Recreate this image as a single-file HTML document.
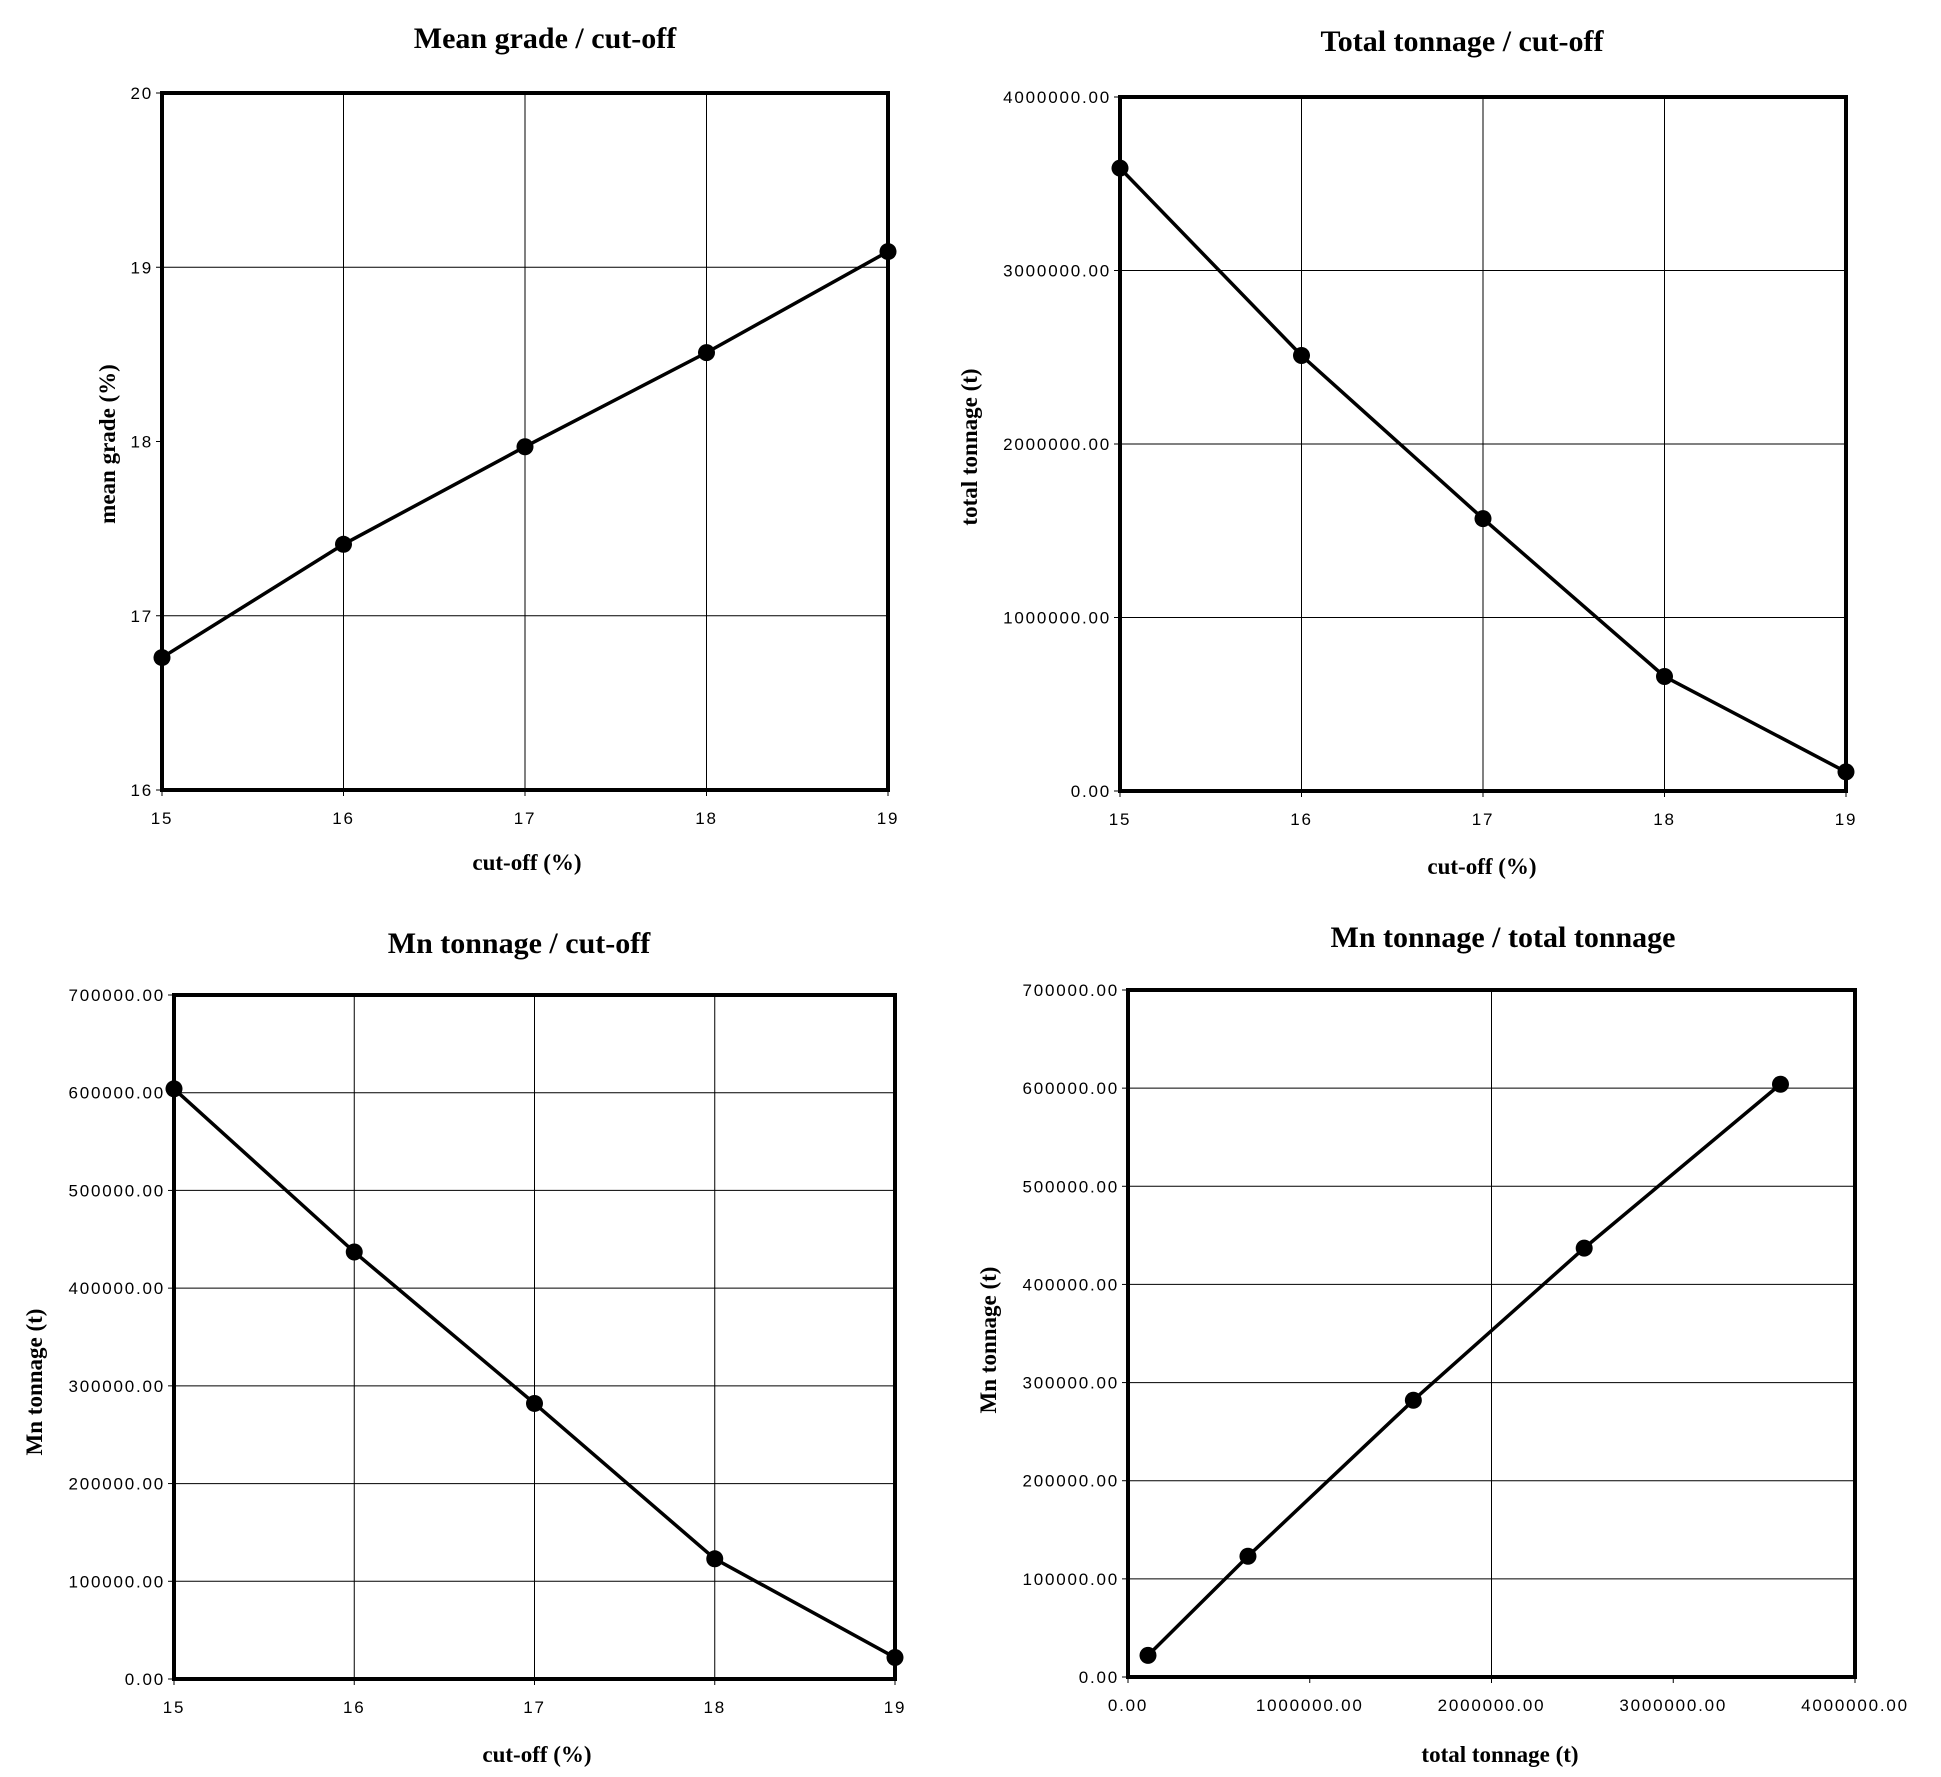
<!DOCTYPE html>
<html><head><meta charset="utf-8"><style>
html,body{margin:0;padding:0;background:#fff;}
svg{display:block}
.t{font-family:"Liberation Serif",serif;font-weight:bold;}
.k{font-family:"Liberation Sans",sans-serif;font-size:17px;letter-spacing:1.8px;}
</style></head><body>
<svg id="s" width="1941" height="1777" xmlns="http://www.w3.org/2000/svg"></svg>
<script>
var s=document.getElementById('s'),h='';
function chart(o){
 var L=o.L,R=o.R,T=o.T,B=o.B;
 function X(v){return L+(v-o.x0)/(o.x1-o.x0)*(R-L);}
 function Y(v){return B-(v-o.y0)/(o.y1-o.y0)*(B-T);}
 o.gx.forEach(function(v){h+='<line x1="'+X(v)+'" y1="'+T+'" x2="'+X(v)+'" y2="'+B+'" stroke="#000" stroke-width="1"/>';});
 o.gy.forEach(function(v){h+='<line x1="'+L+'" y1="'+Y(v)+'" x2="'+R+'" y2="'+Y(v)+'" stroke="#000" stroke-width="1"/>';});
 h+='<rect x="'+L+'" y="'+T+'" width="'+(R-L)+'" height="'+(B-T)+'" fill="none" stroke="#000" stroke-width="4"/>';
 o.ty.forEach(function(v){var y=Y(v);h+='<line x1="'+(L-6)+'" y1="'+y+'" x2="'+L+'" y2="'+y+'" stroke="#000"/>';
  h+='<text class="k" x="'+(L-9)+'" y="'+(y+6)+'" text-anchor="end">'+o.fy(v)+'</text>';});
 o.tx.forEach(function(v){var x=X(v);h+='<line x1="'+x+'" y1="'+B+'" x2="'+x+'" y2="'+(B+6)+'" stroke="#000"/>';
  h+='<text class="k" x="'+x+'" y="'+(B+34)+'" text-anchor="middle">'+o.fx(v)+'</text>';});
 var p=o.d.map(function(d){return X(d[0])+','+Y(d[1]);}).join(' ');
 h+='<polyline points="'+p+'" fill="none" stroke="#000" stroke-width="3.5"/>';
 o.d.forEach(function(d){h+='<circle cx="'+X(d[0])+'" cy="'+Y(d[1])+'" r="8.5" fill="#000"/>';});
 h+='<text class="t" x="'+o.tt[0]+'" y="'+o.tt[1]+'" font-size="30" text-anchor="middle">'+o.title+'</text>';
 h+='<text class="t" x="'+o.xl[0]+'" y="'+o.xl[1]+'" font-size="23" text-anchor="middle">'+o.xlab+'</text>';
 h+='<text class="t" font-size="23" text-anchor="middle" transform="translate('+o.yl[0]+','+o.yl[1]+') rotate(-90)">'+o.ylab+'</text>';
}
function f2(v){return v.toFixed(2);}
function i(v){return ''+v;}
chart({L:162,R:888,T:93,B:790,x0:15,x1:19,y0:16,y1:20,gx:[16,17,18],gy:[17,19],ty:[16,17,18,19,20],tx:[15,16,17,18,19],fx:i,fy:i,
 d:[[15,16.76],[16,17.41],[17,17.97],[18,18.51],[19,19.09]],title:'Mean grade / cut-off',tt:[545,48],xlab:'cut-off (%)',xl:[527,870],ylab:'mean grade (%)',yl:[115,444]});
chart({L:1120,R:1846,T:97,B:791,x0:15,x1:19,y0:0,y1:4000000,gx:[16,17,18],gy:[1e6,2e6,3e6],ty:[0,1e6,2e6,3e6,4e6],tx:[15,16,17,18,19],fx:i,fy:f2,
 d:[[15,3590000],[16,2510000],[17,1570000],[18,660000],[19,110000]],title:'Total tonnage / cut-off',tt:[1462,51],xlab:'cut-off (%)',xl:[1482,874],ylab:'total tonnage (t)',yl:[977,447]});
chart({L:174,R:895,T:995,B:1679,x0:15,x1:19,y0:0,y1:700000,gx:[16,17,18],gy:[1e5,2e5,3e5,4e5,5e5,6e5],ty:[0,1e5,2e5,3e5,4e5,5e5,6e5,7e5],tx:[15,16,17,18,19],fx:i,fy:f2,
 d:[[15,604000],[16,437000],[17,282000],[18,123000],[19,22000]],title:'Mn tonnage / cut-off',tt:[519,953],xlab:'cut-off (%)',xl:[537,1762],ylab:'Mn tonnage (t)',yl:[42,1382]});
chart({L:1128,R:1855,T:990,B:1677,x0:0,x1:4000000,y0:0,y1:700000,gx:[2e6],gy:[1e5,2e5,3e5,4e5,5e5,6e5],ty:[0,1e5,2e5,3e5,4e5,5e5,6e5,7e5],tx:[0,1e6,2e6,3e6,4e6],fx:f2,fy:f2,
 d:[[110000,22000],[660000,123000],[1570000,282000],[2510000,437000],[3590000,604000]],title:'Mn tonnage / total tonnage',tt:[1503,947],xlab:'total tonnage (t)',xl:[1500,1762],ylab:'Mn tonnage (t)',yl:[996,1340]});
s.innerHTML=h;
</script>
</body></html>
